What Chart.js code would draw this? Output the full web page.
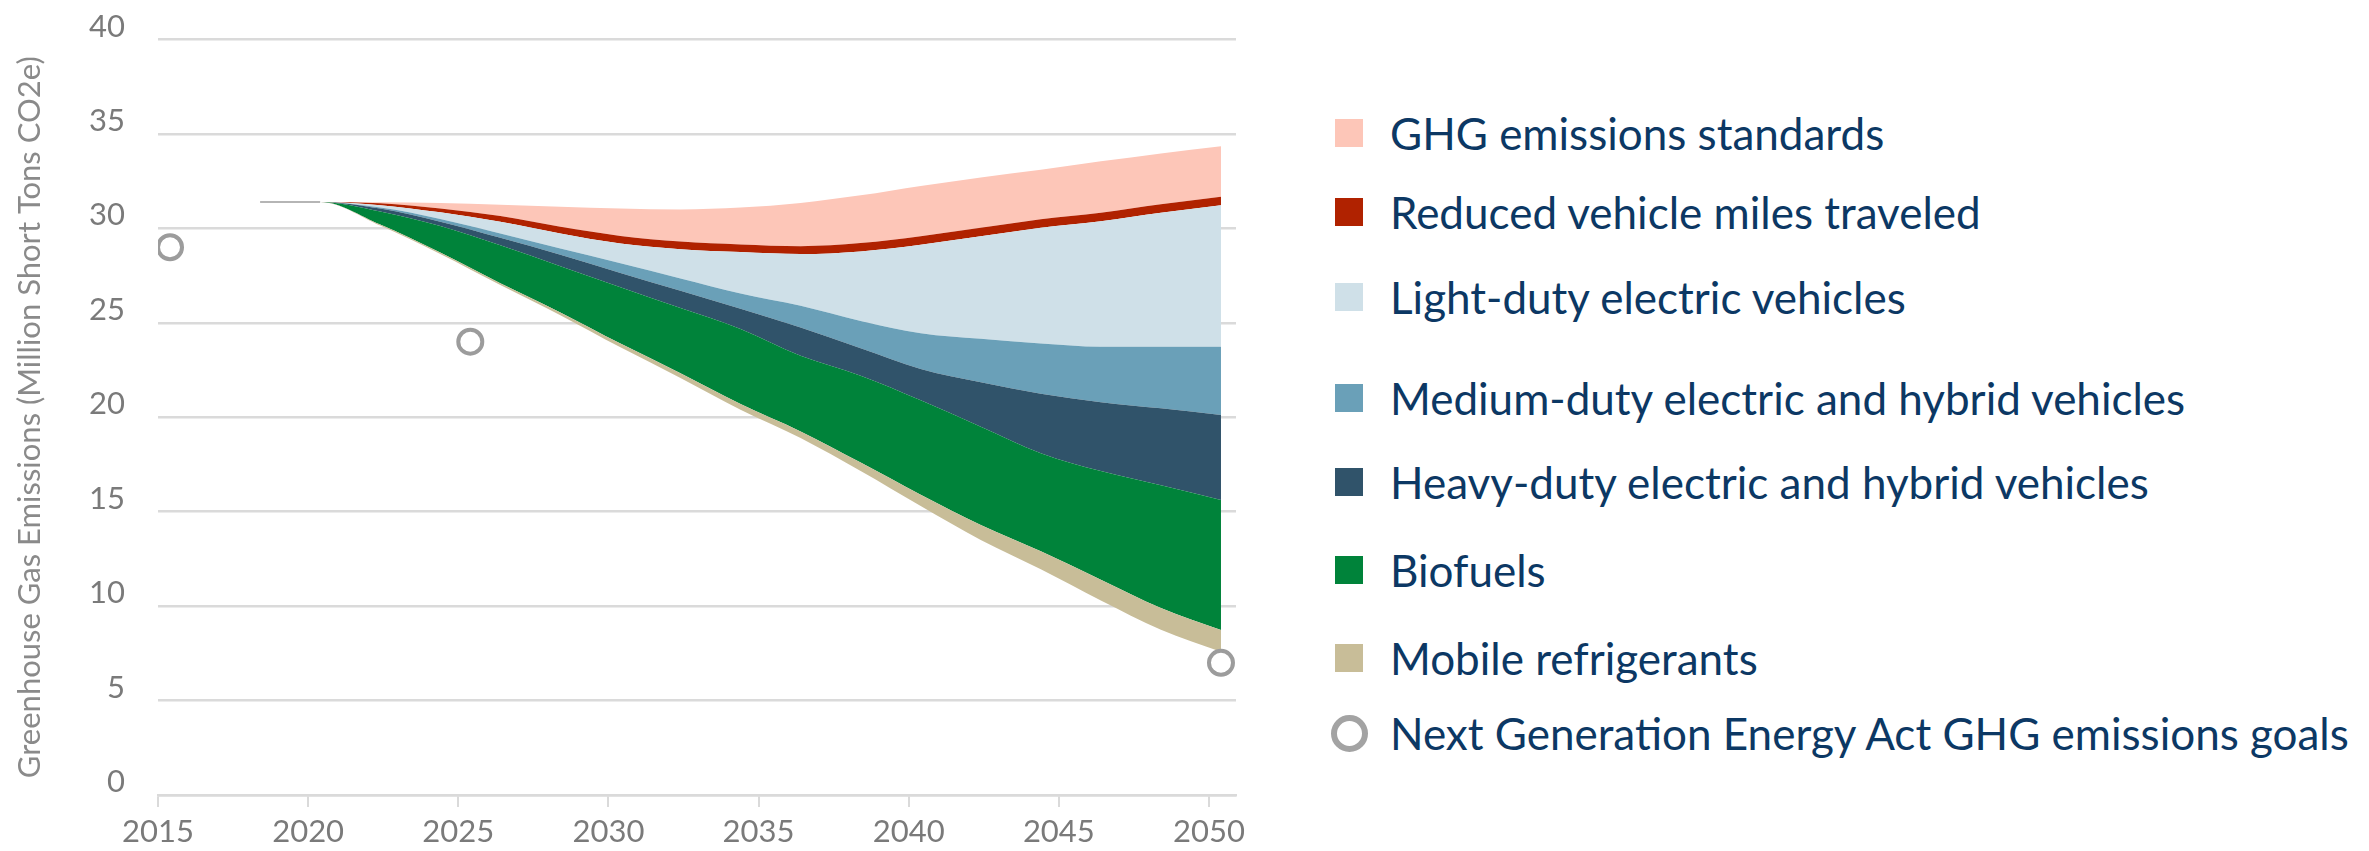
<!DOCTYPE html>
<html>
<head>
<meta charset="utf-8">
<script src="https://cdn.jsdelivr.net/npm/chart.js@4.4.1/dist/chart.umd.min.js"></script>
<style>
  html, body { margin: 0; padding: 0; background: #fff; }
  body { width: 2369px; height: 851px; position: relative; overflow: hidden; }
  #chartBox { position: absolute; left: 0; top: 0; width: 1260px; height: 851px; }
  #legend { position: absolute; left: 1335px; top: 0; font-family: Lato, sans-serif; font-size: 44px; color: #0c3864; }
  .row { position: absolute; left: 0; display: flex; align-items: center; white-space: nowrap; transform: translateY(-50%); }
  .sw { width: 28px; height: 28px; margin-right: 27px; flex: none; }
  .ring { width: 25px; height: 25px; border: 6px solid #a3a3a3; border-radius: 50%; margin-left: -4px; margin-right: 22px; flex: none; }
</style>
</head>
<body>
<div id="chartBox"><canvas id="chart"></canvas></div>
<div id="legend"></div>
<script>
// Data (Million Short Tons CO2e); each wedge is a reduction stacked on what remains
const years = [2018, 2020, 2022, 2024, 2026, 2028, 2030, 2032, 2034, 2036, 2038, 2040, 2042, 2044, 2046, 2048, 2050];
const remaining = [31.4, 31.4, 30.15, 28.64, 27.0, 25.4, 23.7, 22.08, 20.4, 18.9, 17.15, 15.3, 13.5, 11.95, 10.3, 8.75, 7.58];
const mobileRefrigerants = [0, 0, 0.05, 0.08, 0.1, 0.15, 0.2, 0.25, 0.3, 0.35, 0.45, 0.6, 0.8, 0.95, 1.1, 1.15, 1.15];
const biofuels = [0, 0, 0.7, 1.4, 2.0, 2.45, 2.98, 3.45, 3.97, 4.0, 4.6, 5.0, 5.2, 5.2, 5.75, 6.5, 6.89];
const heavyDuty = [0, 0, 0.15, 0.23, 0.4, 0.6, 0.76, 0.92, 1.08, 1.5, 1.45, 1.65, 2.35, 3.15, 3.65, 4.07, 4.5];
const mediumDuty = [0, 0, 0.05, 0.15, 0.23, 0.33, 0.51, 0.65, 0.8, 1.15, 1.45, 1.9, 2.3, 2.65, 2.93, 3.26, 3.61];
const lightDuty = [0, 0, 0.13, 0.35, 0.62, 0.8, 1.05, 1.55, 2.2, 2.74, 3.68, 4.68, 5.43, 6.13, 6.65, 7.1, 7.5];
const reducedVmt = [0, 0, 0.1, 0.2, 0.3, 0.35, 0.4, 0.4, 0.4, 0.42, 0.44, 0.45, 0.45, 0.45, 0.45, 0.45, 0.45];
const ghgStandards = [0, 0, 0.05, 0.3, 0.6, 1.07, 1.45, 1.7, 1.95, 2.29, 2.53, 2.67, 2.67, 2.62, 2.72, 2.69, 2.67];

const goalYears = [2015, 2025, 2050];
const goalValues = [29.0, 24.0, 7.0];

const tickYears = [2015, 2020, 2025, 2030, 2035, 2040, 2045, 2050];
const tickLabels = ["2015", "2020", "2025", "2030", "2035", "2040", "2045", "2050"];

const yTitle = "Greenhouse Gas Emissions (Million Short Tons CO2e)";
const goalsLabel = "Next Generation Energy Act GHG emissions goals";

// in the original the axis ticks sit slightly left of the plotted years
const TICK_SHIFT = -0.4;

const pts = (arr) => years.map((x, i) => ({ x, y: arr[i] }));

// bottom to top, as stacked
const layers = [
  { label: "Mobile refrigerants", data: mobileRefrigerants, color: "#c8bd98" },
  { label: "Biofuels", data: biofuels, color: "#00833a" },
  { label: "Heavy-duty electric and hybrid vehicles", data: heavyDuty, color: "#30536a" },
  { label: "Medium-duty electric and hybrid vehicles", data: mediumDuty, color: "#6aa0b8" },
  { label: "Light-duty electric vehicles", data: lightDuty, color: "#cfe0e8" },
  { label: "Reduced vehicle miles traveled", data: reducedVmt, color: "#b02200" },
  { label: "GHG emissions standards", data: ghgStandards, color: "#fdc6b8" },
];

const datasets = [
  {
    label: "Remaining emissions",
    data: pts(remaining),
    fill: false,
    borderWidth: 2,
    segment: { borderColor: (ctx) => ctx.p0.parsed.x < 2020 ? "#b5b5b5" : "rgba(0,0,0,0)" },
    pointRadius: 0,
    stack: "emis",
  },
  ...layers.map((l) => ({
    label: l.label,
    data: pts(l.data),
    fill: "-1",
    backgroundColor: l.color,
    borderColor: "rgba(0,0,0,0)",
    borderWidth: 0,
    pointRadius: 0,
    stack: "emis",
  })),
  {
    label: goalsLabel,
    data: goalYears.map((x, i) => ({ x, y: goalValues[i] })),
    showLine: false,
    fill: false,
    pointRadius: 12,
    pointBorderWidth: 4,
    pointBorderColor: "#9c9c9c",
    pointBackgroundColor: "rgba(0,0,0,0)",
    stack: "goals",
    order: -1,
  },
];

const tickFont = { family: "Lato", size: 31 };
const gridGrey = "#dadada";

new Chart(document.getElementById("chart"), {
  type: "line",
  data: { datasets },
  options: {
    responsive: true,
    maintainAspectRatio: false,
    animation: false,
    elements: { line: { cubicInterpolationMode: "monotone" } },
    layout: { padding: { top: 39.5, right: 24, bottom: 0, left: 0 } },
    plugins: { legend: { display: false }, tooltip: { enabled: false } },
    scales: {
      x: {
        type: "linear",
        min: tickYears[0] + TICK_SHIFT,
        max: 2050.5,
        afterBuildTicks: (scale) => { scale.ticks = tickYears.map((y) => ({ value: y + TICK_SHIFT })); },
        afterFit: (scale) => { scale.height = 56; },
        grid: { drawOnChartArea: false, drawTicks: true, tickLength: 12, color: gridGrey, lineWidth: 2 },
        border: { display: true, color: gridGrey, width: 2.5 },
        ticks: { font: tickFont, color: "#7a7a7a", padding: 6, maxRotation: 0, callback: (v, i) => tickLabels[i] },
      },
      y: {
        stacked: true,
        min: 0,
        max: 40,
        afterFit: (scale) => {
          scale.width = 158;
          // the labels are lifted by labelOffset, so no extra room is needed above and below
          scale.paddingTop = 0;
          scale.paddingBottom = 0;
        },
        grid: { color: gridGrey, lineWidth: 2.5, drawTicks: false },
        border: { display: false },
        ticks: { stepSize: 5, font: tickFont, color: "#7a7a7a", padding: 33, labelOffset: -13 },
        title: { display: true, text: yTitle, font: { family: "Lato", size: 31 }, color: "#8a8a8a", padding: { top: 11, bottom: 0 } },
      },
    },
  },
});

// legend, top to bottom as in the original
const legendRowY = [133, 212, 297, 398, 482, 570, 658, 733];
const legendItems = layers.slice().reverse().map((l) => ({ label: l.label, color: l.color }));
legendItems.push({ label: goalsLabel, ring: true });

const legendEl = document.getElementById("legend");
legendItems.forEach((item, i) => {
  const row = document.createElement("div");
  row.className = "row";
  row.style.top = legendRowY[i] + "px";
  const mark = document.createElement("span");
  if (item.ring) {
    mark.className = "ring";
  } else {
    mark.className = "sw";
    mark.style.background = item.color;
  }
  const txt = document.createElement("span");
  txt.textContent = item.label;
  row.appendChild(mark);
  row.appendChild(txt);
  legendEl.appendChild(row);
});
</script>
</body>
</html>
